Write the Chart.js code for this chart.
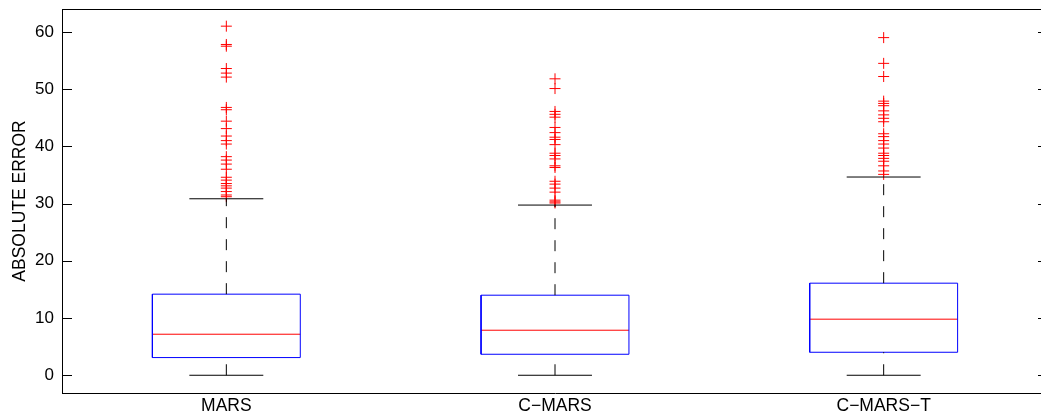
<!DOCTYPE html>
<html><head><meta charset="utf-8">
<script src="https://cdn.jsdelivr.net/npm/chart.js@4/dist/chart.umd.min.js"></script>
<style>
html,body{margin:0;padding:0;background:#fff;overflow:hidden}
#wrap{width:1041px;height:419px;overflow:hidden;position:relative;background:#fff}
#box{width:1060px;height:419px;position:absolute;left:0;top:0}
</style></head><body>
<div id="wrap"><div id="box"><canvas id="c"></canvas></div></div>
<script>
const categories = ['MARS', 'C\u2212MARS', 'C\u2212MARS\u2212T'];
const q1Values = [3.09, 3.67, 4.02];
const medianValues = [7.17, 7.87, 9.80];
const q3Values = [14.17, 13.99, 16.09];
const whiskerLow = [0, 0, 0];
const whiskerHigh = [30.84, 29.74, 34.64];
const outliersMARS = [61.0, 57.8, 57.5, 53.6, 52.8, 52.1, 46.8, 46.4, 44.4, 43.1, 41.8, 41.0, 40.4, 38.2, 37.6, 36.9, 36.0, 34.6, 34.1, 33.5, 33.1, 32.7, 32.1, 31.5, 31.2];
const outliersCMARS = [51.8, 50.1, 46.1, 45.6, 45.1, 43.3, 42.4, 41.6, 41.2, 40.3, 38.8, 38.4, 37.8, 36.6, 36.3, 33.9, 33.4, 32.7, 32.0, 30.6, 30.3, 30.1];
const outliersCMARST = [59.0, 54.5, 52.2, 47.9, 47.5, 47.1, 46.2, 45.5, 44.9, 44.3, 42.2, 41.7, 41.0, 40.4, 39.7, 38.8, 38.4, 37.9, 37.4, 36.6, 35.7, 35.1];
const yTicks = [0, 10, 20, 30, 40, 50, 60];

const outlierGroups = [outliersMARS, outliersCMARS, outliersCMARST];
const BOX_HALF = 0.225, CAP_HALF = 0.1125;

const datasets = [];
categories.forEach((c, i) => {
  const x = i + 1;
  datasets.push({data: [{x: x, y: whiskerLow[i]}, {x: x, y: q1Values[i]}], borderColor: '#000', borderWidth: 1, borderDash: [11, 11], pointRadius: 0});
  datasets.push({data: [{x: x, y: q3Values[i]}, {x: x, y: whiskerHigh[i]}], borderColor: '#000', borderWidth: 1, borderDash: [11, 11], pointRadius: 0});
  datasets.push({data: [{x: x - CAP_HALF, y: whiskerLow[i]}, {x: x + CAP_HALF, y: whiskerLow[i]}], borderColor: '#000', borderWidth: 1, pointRadius: 0});
  datasets.push({data: [{x: x - CAP_HALF, y: whiskerHigh[i]}, {x: x + CAP_HALF, y: whiskerHigh[i]}], borderColor: '#000', borderWidth: 1, pointRadius: 0});
  datasets.push({data: [
    {x: x - BOX_HALF, y: q1Values[i]}, {x: x + BOX_HALF, y: q1Values[i]},
    {x: x + BOX_HALF, y: q3Values[i]}, {x: x - BOX_HALF, y: q3Values[i]},
    {x: x - BOX_HALF, y: q1Values[i]}], borderColor: '#0000ff', borderWidth: 1, pointRadius: 0});
  datasets.push({data: [{x: x - BOX_HALF, y: medianValues[i]}, {x: x + BOX_HALF, y: medianValues[i]}], borderColor: '#ff0000', borderWidth: 1, pointRadius: 0});
  datasets.push({data: outlierGroups[i].map(v => ({x: x, y: v})), showLine: false, pointStyle: 'cross', pointRadius: 5.5, pointBorderWidth: 1, borderColor: '#ff0000', backgroundColor: '#ff0000', borderWidth: 1});
});

const framePlugin = {
  id: 'frame',
  afterDraw(chart) {
    const {ctx, chartArea: a, scales: {y}} = chart;
    ctx.save();
    ctx.strokeStyle = '#000';
    ctx.lineWidth = 1;
    ctx.beginPath();
    ctx.moveTo(a.left, a.top + 0.5); ctx.lineTo(a.right, a.top + 0.5);
    ctx.moveTo(a.right - 0.5, a.top); ctx.lineTo(a.right - 0.5, a.bottom);
    yTicks.forEach(v => {
      const py = Math.round(y.getPixelForValue(v)) + 0.5;
      ctx.moveTo(a.left, py); ctx.lineTo(a.left + 10, py);
      ctx.moveTo(a.right - 10, py); ctx.lineTo(a.right, py);
    });
    ctx.stroke();
    ctx.restore();
  }
};

const zeroPad = s => { s.paddingTop = 0; s.paddingBottom = 0; s.paddingLeft = 0; s.paddingRight = 0; };

new Chart(document.getElementById('c'), {
  type: 'line',
  data: {datasets},
  options: {
    responsive: true,
    maintainAspectRatio: false,
    animation: false,
    events: [],
    layout: {padding: {top: 9, right: 12, left: 0, bottom: 0}},
    plugins: {legend: {display: false}, tooltip: {enabled: false}},
    scales: {
      x: {
        type: 'linear', min: 0.5, max: 3.5,
        afterBuildTicks: s => { s.ticks = categories.map((c, i) => ({value: i + 1})); },
        afterFit: s => { s.height = 26; zeroPad(s); },
        grid: {display: false, drawTicks: false},
        border: {display: true, color: '#000', width: 1},
        ticks: {padding: 3, color: '#000', font: {family: 'Liberation Sans, Arial, sans-serif', size: 17.5}, maxRotation: 0,
          callback: v => categories[Math.round(v) - 1]}
      },
      y: {
        type: 'linear', min: -3.1, max: 64,
        afterBuildTicks: s => { s.ticks = yTicks.map(v => ({value: v})); },
        afterFit: s => { s.width = 62; zeroPad(s); },
        grid: {display: false, drawTicks: false},
        border: {display: true, color: '#000', width: 1},
        title: {display: true, text: 'ABSOLUTE ERROR', color: '#000', padding: {top: 10, bottom: 0},
          font: {family: 'Liberation Sans, Arial, sans-serif', size: 17.5}},
        ticks: {padding: 8, color: '#000', font: {family: 'Liberation Sans, Arial, sans-serif', size: 17}}
      }
    }
  },
  plugins: [framePlugin]
});
</script>
</body></html>
